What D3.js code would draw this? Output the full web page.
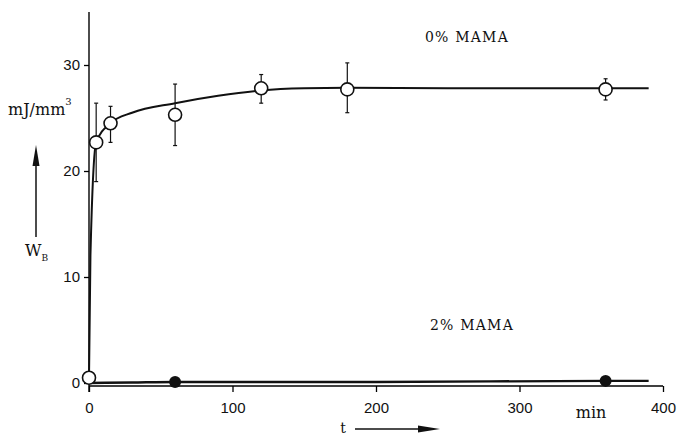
<!DOCTYPE html>
<html>
<head>
<meta charset="utf-8">
<script src="https://cdn.jsdelivr.net/npm/d3@7/dist/d3.min.js"></script>
<style>
    body { margin: 0; background: #fff; }
    svg { display: block; }
    .tick text { font-family: "Liberation Sans", Arial, sans-serif; font-size: 15px; fill: #111; }
    .lbl { font-family: "DejaVu Serif", serif; fill: #111; }
</style>
</head>
<body>
<div id="chart"></div>
<script>
// 0% MAMA, measured points (open circles) with error bars
var tOpen = [0, 5, 15, 60, 120, 180, 360];
var wOpen = [0.5, 22.7, 24.5, 25.3, 27.8, 27.7, 27.7];
var wLow = [null, 19.0, 22.7, 22.4, 26.4, 25.5, 26.7];
var wHigh = [null, 26.4, 26.1, 28.2, 29.1, 30.2, 28.7];

// 0% MAMA fitted curve
var curveT0 = [0, 1, 5, 15, 30, 60, 90, 120, 150, 180, 250, 390];
var curveW0 = [0.5, 12, 22.7, 24.5, 25.5, 26.4, 27.1, 27.6, 27.8, 27.85, 27.8, 27.8];

// 2% MAMA, filled points and curve
var tFilled = [60, 360];
var wFilled = [0.1, 0.2];
var curveT2 = [0, 30, 60, 200, 360, 390];
var curveW2 = [0, 0.05, 0.1, 0.1, 0.2, 0.2];

var xTicks = [0, 100, 200, 300, 400];
var yTicks = [0, 10, 20, 30];

var width = 678, height = 437;
var margin = {top: 12, right: 15, bottom: 54, left: 89};

var svg = d3.select("#chart").append("svg")
    .attr("width", width)
    .attr("height", height);

var x = d3.scaleLinear().domain([0, 400]).range([margin.left, 663]);
var y = d3.scaleLinear().domain([0, 35]).range([383, margin.top]);

// axes
var xAxis = svg.append("g")
    .attr("transform", "translate(0," + (y(0) + 3) + ")")
    .call(d3.axisBottom(x).tickValues(xTicks).tickSize(6).tickPadding(10).tickFormat(d3.format("d")));
xAxis.select(".domain").attr("d", "M" + x(0) + ",0H" + x(400)).attr("stroke-width", 1.4);
xAxis.selectAll(".tick line").attr("stroke-width", 1.3);

var yAxis = svg.append("g")
    .attr("transform", "translate(" + x(0) + ",0)")
    .call(d3.axisLeft(y).tickValues(yTicks).tickSize(5).tickPadding(4));
yAxis.select(".domain").attr("d", "M0," + y(35) + "V" + (y(0) + 9)).attr("stroke-width", 1.4);
yAxis.selectAll(".tick line").attr("stroke-width", 1.3);

var line = d3.line()
    .x(function(d) { return x(d[0]); })
    .y(function(d) { return y(d[1]); })
    .curve(d3.curveMonotoneX);

// curves
svg.append("path")
    .datum(d3.zip(curveT0, curveW0))
    .attr("fill", "none")
    .attr("stroke", "#111")
    .attr("stroke-width", 2)
    .attr("d", line);

svg.append("path")
    .datum(d3.zip(curveT2, curveW2))
    .attr("fill", "none")
    .attr("stroke", "#111")
    .attr("stroke-width", 2.4)
    .attr("d", line);

// error bars
var errData = tOpen.map(function(t, i) {
    return {t: t, lo: wLow[i], hi: wHigh[i]};
}).filter(function(d) { return d.lo !== null; });

var err = svg.append("g").selectAll("g")
    .data(errData)
    .enter().append("g")
    .attr("stroke", "#111")
    .attr("stroke-width", 1.2);

err.append("line")
    .attr("x1", function(d) { return x(d.t); })
    .attr("x2", function(d) { return x(d.t); })
    .attr("y1", function(d) { return y(d.lo); })
    .attr("y2", function(d) { return y(d.hi); });
err.append("line")
    .attr("x1", function(d) { return x(d.t) - 2; })
    .attr("x2", function(d) { return x(d.t) + 2; })
    .attr("y1", function(d) { return y(d.hi); })
    .attr("y2", function(d) { return y(d.hi); });
err.append("line")
    .attr("x1", function(d) { return x(d.t) - 2; })
    .attr("x2", function(d) { return x(d.t) + 2; })
    .attr("y1", function(d) { return y(d.lo); })
    .attr("y2", function(d) { return y(d.lo); });

// points
svg.append("g").selectAll("circle")
    .data(d3.zip(tOpen, wOpen))
    .enter().append("circle")
    .attr("cx", function(d) { return x(d[0]); })
    .attr("cy", function(d) { return y(d[1]); })
    .attr("r", 6.5)
    .attr("fill", "#fff")
    .attr("stroke", "#111")
    .attr("stroke-width", 1.6);

svg.append("g").selectAll("circle")
    .data(d3.zip(tFilled, wFilled))
    .enter().append("circle")
    .attr("cx", function(d) { return x(d[0]); })
    .attr("cy", function(d) { return y(d[1]); })
    .attr("r", 6)
    .attr("fill", "#111");

// labels
svg.append("text").attr("class", "lbl")
    .attr("x", 467).attr("y", 42)
    .attr("text-anchor", "middle")
    .attr("font-size", 14).attr("letter-spacing", 1.2)
    .text("0% MAMA");

svg.append("text").attr("class", "lbl")
    .attr("x", 472).attr("y", 330)
    .attr("text-anchor", "middle")
    .attr("font-size", 14).attr("letter-spacing", 1.2)
    .text("2% MAMA");

var unit = svg.append("text").attr("class", "lbl")
    .attr("x", 8).attr("y", 115)
    .attr("font-size", 16);
unit.append("tspan").text("mJ/mm");
unit.append("tspan").attr("font-size", 10).attr("dy", -10).text("3");

var wb = svg.append("text").attr("class", "lbl")
    .attr("x", 25).attr("y", 256)
    .attr("font-size", 16);
wb.append("tspan").text("W");
wb.append("tspan").attr("font-size", 9).attr("dy", 5).text("B");

svg.append("text").attr("class", "lbl")
    .attr("x", 591).attr("y", 418)
    .attr("text-anchor", "middle")
    .attr("font-size", 16)
    .text("min");

svg.append("text").attr("class", "lbl")
    .attr("x", 343).attr("y", 433)
    .attr("text-anchor", "middle")
    .attr("font-size", 14)
    .text("t");

// arrows
svg.append("line")
    .attr("x1", 36).attr("x2", 36).attr("y1", 237).attr("y2", 160)
    .attr("stroke", "#111").attr("stroke-width", 1.5);
svg.append("path")
    .attr("d", "M36,145L32.5,166L39.5,166Z")
    .attr("fill", "#111");

svg.append("line")
    .attr("x1", 355).attr("x2", 425).attr("y1", 429).attr("y2", 429)
    .attr("stroke", "#111").attr("stroke-width", 1.3);
svg.append("path")
    .attr("d", "M440,429L418,425.5L418,432.5Z")
    .attr("fill", "#111");
</script>
</body>
</html>
